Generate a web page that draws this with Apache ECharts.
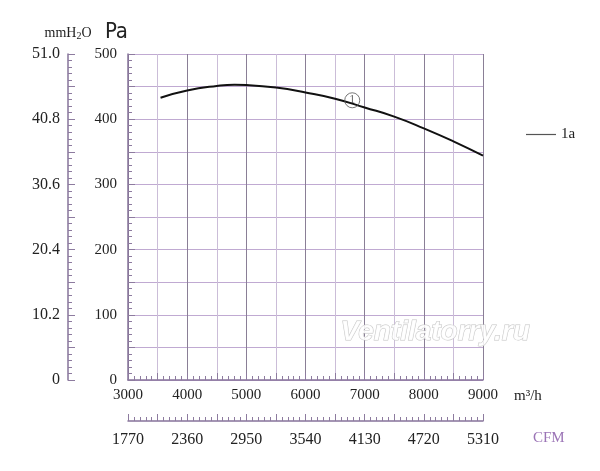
<!DOCTYPE html>
<html>
<head>
<meta charset="utf-8">
<script src="https://cdn.jsdelivr.net/npm/echarts@6.0.0/dist/echarts.min.js"></script>
<style>
  html, body { margin: 0; padding: 0; background: #fff; }
  #main { width: 600px; height: 471px; }
</style>
</head>
<body>
<div id="main"></div>
<script>
// curve 1a
var flowM3h = [3550, 4000, 4500, 4800, 5000, 5500, 6000, 6500, 7000, 7500, 8000, 8500, 9000];
var pressurePa = [433, 444, 451, 453, 452.5, 448.5, 441, 431.5, 418, 404, 386, 366, 344];
// circled "1" marker
var markerFlow = [6790];
var markerPa = [429];
var markerText = ['1'];
// axes
var flowRange = [3000, 9000];
var cfmRange = [1770, 5310];
var paRange = [0, 500];
var mmRange = [0, 51];

var serif = "'Liberation Serif', 'DejaVu Serif', serif";
var axisColor = '#86739a';
var tickColor = '#8d7b9f';

var curveData = flowM3h.map(function (x, i) { return [x, pressurePa[i]]; });
var markerData = markerFlow.map(function (x, i) { return { value: [x, markerPa[i]], label: markerText[i] }; });

var chart = echarts.init(document.getElementById('main'), null, { renderer: 'canvas' });

var option = {
  backgroundColor: '#fff',
  animation: false,
  grid: { left: 128, right: 117, top: 54, bottom: 91 },
  legend: {
    data: ['1a'],
    left: 521,
    top: 122,
    icon: 'rect',
    itemWidth: 30,
    itemHeight: 1.2,
    itemStyle: { color: '#555' },
    textStyle: { fontFamily: serif, fontSize: 15, color: '#222' }
  },
  xAxis: [
    {
      type: 'value',
      min: flowRange[0],
      max: flowRange[1],
      interval: 500,
      position: 'bottom',
      name: 'm³/h',
      nameLocation: 'end',
      nameGap: 31,
      nameTextStyle: { fontFamily: serif, fontSize: 15, color: '#222', verticalAlign: 'top', padding: [9, 0, 0, 0] },
      axisLine: { onZero: false, lineStyle: { color: axisColor, width: 1.5 } },
      axisTick: { inside: true, length: 7, lineStyle: { color: tickColor } },
      minorTick: { show: true, splitNumber: 5, length: 4, lineStyle: { color: tickColor } },
      splitLine: { show: true, lineStyle: { color: ['#8a7f96', '#cbbdd8'], width: 1 } },
      axisLabel: {
        margin: 8,
        fontFamily: serif,
        fontSize: 15,
        color: '#222',
        formatter: function (v) { return v % 1000 === 0 ? String(v) : ''; }
      }
    },
    {
      type: 'value',
      min: cfmRange[0],
      max: cfmRange[1],
      interval: 295,
      position: 'bottom',
      offset: 41,
      name: 'CFM',
      nameLocation: 'end',
      nameGap: 50,
      nameTextStyle: { fontFamily: "'Liberation Sans Narrow', " + serif, fontSize: 15, color: '#9b74b6', verticalAlign: 'top', padding: [10, 0, 0, 0] },
      axisLine: { onZero: false, lineStyle: { color: axisColor, width: 1.5 } },
      axisTick: { inside: true, length: 7, lineStyle: { color: tickColor } },
      minorTick: { show: true, splitNumber: 5, length: 4, lineStyle: { color: tickColor } },
      splitLine: { show: false },
      axisLabel: {
        margin: 11,
        fontFamily: serif,
        fontSize: 16,
        color: '#222',
        formatter: function (v) { return (v - cfmRange[0]) % 590 === 0 ? String(v) : ''; }
      }
    }
  ],
  yAxis: [
    {
      type: 'value',
      min: paRange[0],
      max: paRange[1],
      interval: 50,
      position: 'left',
      name: 'Pa',
      nameLocation: 'end',
      nameGap: 11,
      nameTextStyle: { fontFamily: "'Liberation Sans Narrow', 'DejaVu Sans Condensed', sans-serif", fontSize: 22, color: '#222', align: 'right' },
      axisLine: { show: true, onZero: false, lineStyle: { color: axisColor, width: 1.5 } },
      axisTick: { inside: true, length: 7, lineStyle: { color: tickColor } },
      minorTick: { show: true, splitNumber: 5, length: 4, lineStyle: { color: tickColor } },
      splitLine: { show: true, lineStyle: { color: '#c0aad2', width: 1 } },
      axisLabel: {
        margin: 11,
        fontFamily: serif,
        fontSize: 15,
        color: '#222',
        formatter: function (v) { return v % 100 === 0 ? String(v) : ''; }
      }
    },
    {
      type: 'value',
      min: mmRange[0],
      max: mmRange[1],
      interval: 5.1,
      position: 'left',
      offset: 60,
      name: '{a|mmH}{b|2}{a|O}',
      nameLocation: 'end',
      nameGap: 13,
      nameTextStyle: {
        rich: {
          a: { fontFamily: serif, fontSize: 14, color: '#222' },
          b: { fontFamily: serif, fontSize: 10, color: '#222', padding: [6, 0, 0, 0] }
        }
      },
      axisLine: { show: true, onZero: false, lineStyle: { color: axisColor, width: 1.5 } },
      axisTick: { inside: true, length: 7, lineStyle: { color: tickColor } },
      minorTick: { show: true, splitNumber: 5, length: 4, lineStyle: { color: tickColor } },
      splitLine: { show: false },
      axisLabel: {
        margin: 8,
        fontFamily: serif,
        fontSize: 16,
        color: '#222',
        formatter: function (v, i) {
          if (i % 2 !== 0) return '';
          return v === 0 ? '0' : v.toFixed(1);
        }
      }
    }
  ],
  graphic: [
    {
      type: 'text',
      left: 340,
      top: 318,
      z: 50,
      style: {
        text: 'Ventilatorry.ru',
        font: "italic bold 28px 'Liberation Sans', sans-serif",
        fill: 'rgba(255,255,255,0.85)',
        stroke: '#c4c4c4',
        lineWidth: 1
      }
    }
  ],
  series: [
    {
      name: '1a',
      type: 'line',
      xAxisIndex: 0,
      yAxisIndex: 0,
      data: curveData,
      smooth: 0.5,
      symbol: 'none',
      lineStyle: { color: '#111', width: 2 },
      itemStyle: { color: '#111' },
      z: 5
    },
    {
      name: 'marker',
      type: 'scatter',
      xAxisIndex: 0,
      yAxisIndex: 0,
      data: markerData,
      symbol: 'circle',
      symbolSize: 15,
      itemStyle: { color: 'rgba(255,255,255,0)', borderColor: '#555', borderWidth: 1 },
      label: {
        show: true,
        position: 'inside',
        fontFamily: serif,
        fontSize: 12,
        color: '#444',
        formatter: function (p) { return p.data.label; }
      },
      z: 6
    }
  ]
};

chart.setOption(option);
</script>
</body>
</html>
